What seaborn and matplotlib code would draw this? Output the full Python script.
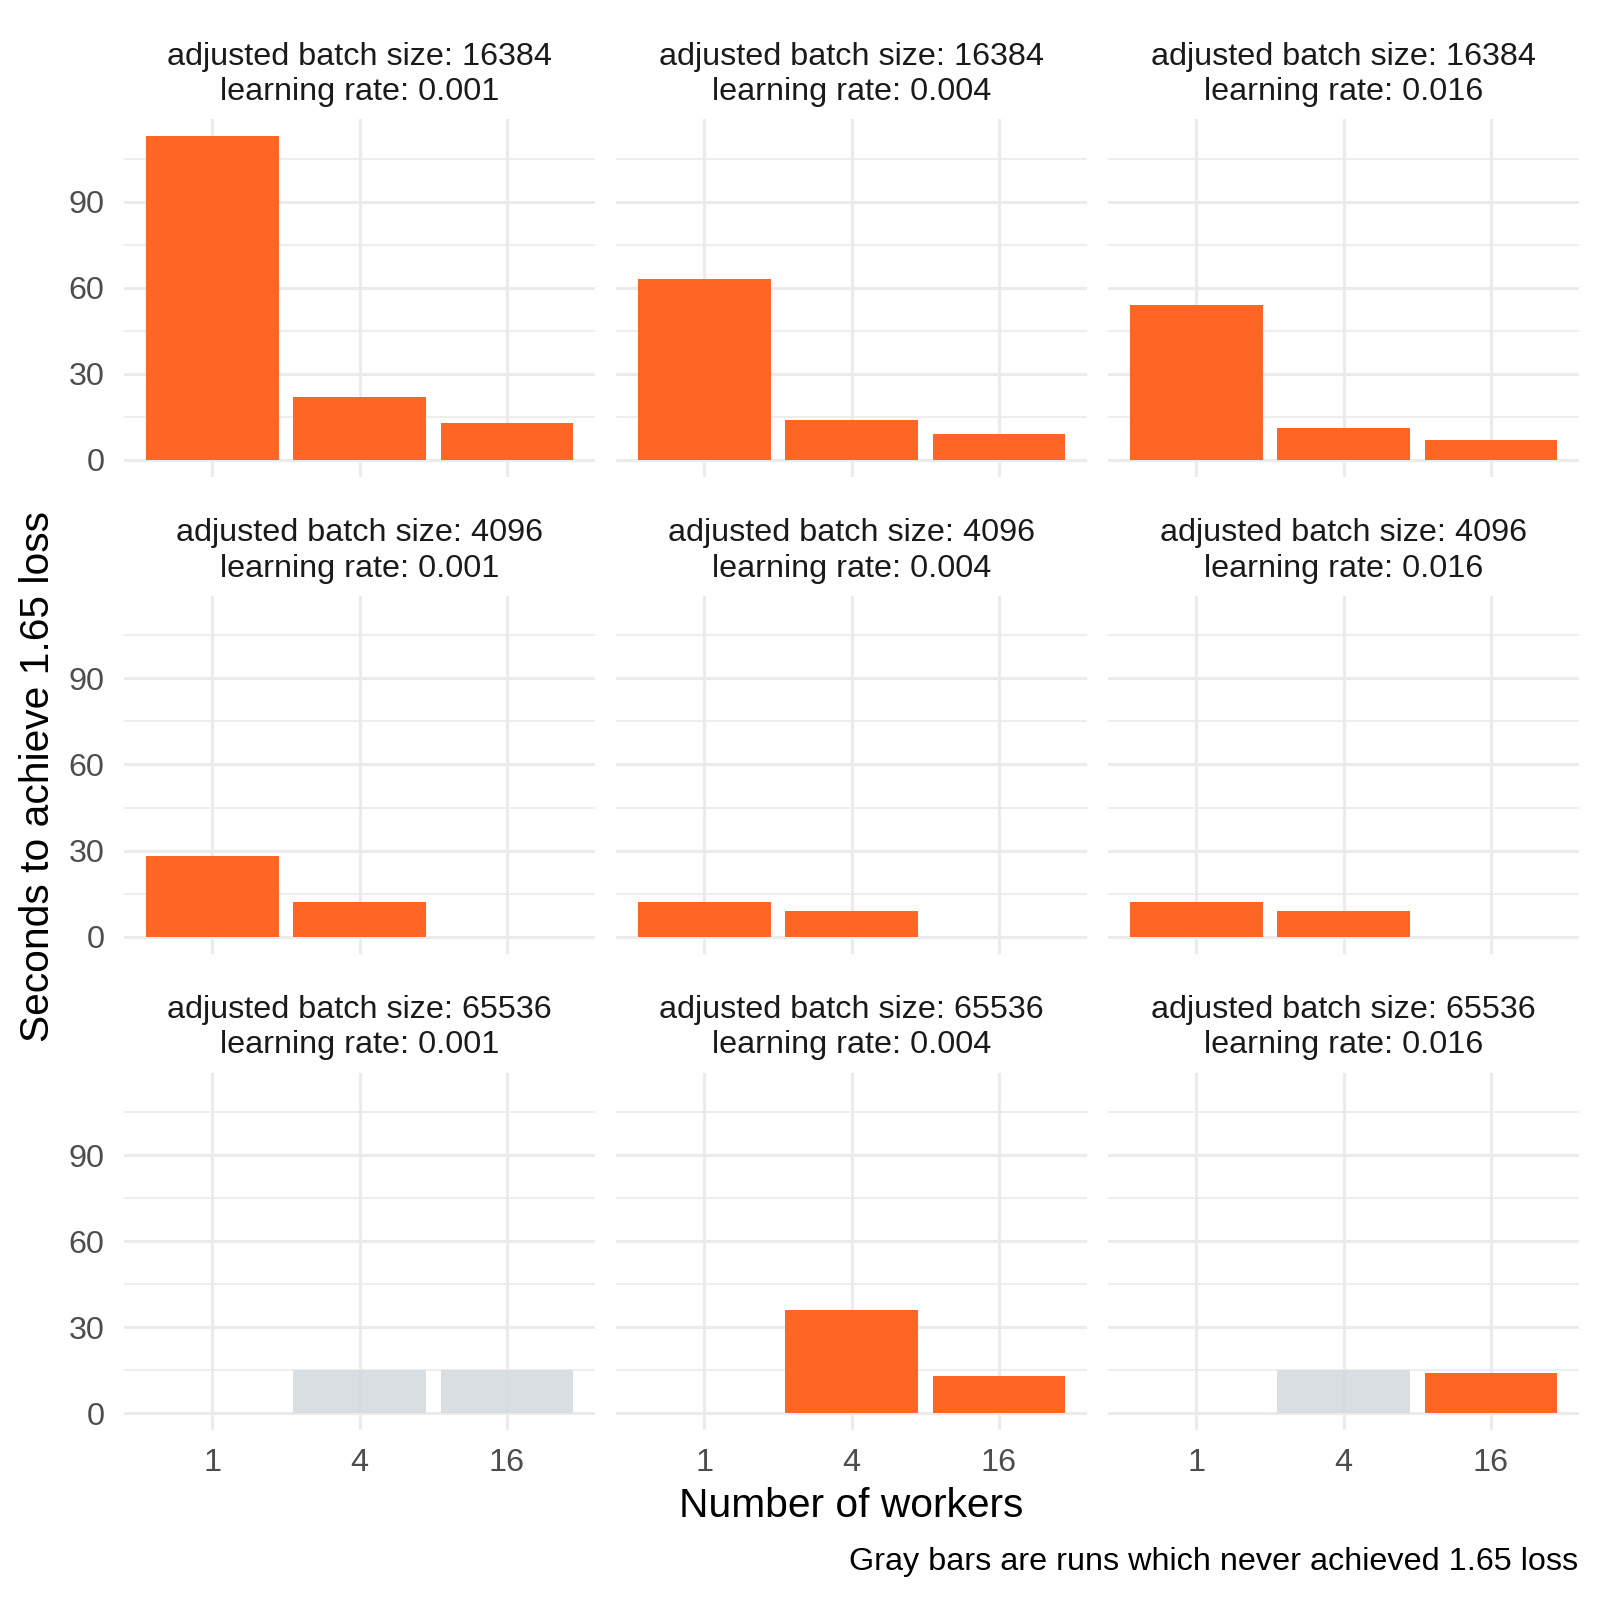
import matplotlib
matplotlib.use("Agg")
import matplotlib.pyplot as plt
import seaborn as sns
import pandas as pd

sns.set_theme(style="white")
plt.rcParams['font.family'] = ['Liberation Sans', 'DejaVu Sans']

batch_sizes = ["16384", "4096", "65536"]
learning_rates = ["0.001", "0.004", "0.016"]
workers = ["1", "4", "16"]

# seconds per (batch size, learning rate) -> values for workers 1, 4, 16 (None = no bar)
secs_16384_0001 = [113, 22, 13]
secs_16384_0004 = [63, 14, 9]
secs_16384_0016 = [54, 11, 7]
secs_4096_0001 = [28, 12, None]
secs_4096_0004 = [12, 9, None]
secs_4096_0016 = [12, 9, None]
secs_65536_0001 = [None, 15, 15]
secs_65536_0004 = [None, 36, 13]
secs_65536_0016 = [None, 15, 14]

# achieved flag: True = reached 1.65 loss, False = gray bar
ok_16384_0001 = [True, True, True]
ok_16384_0004 = [True, True, True]
ok_16384_0016 = [True, True, True]
ok_4096_0001 = [True, True, True]
ok_4096_0004 = [True, True, True]
ok_4096_0016 = [True, True, True]
ok_65536_0001 = [True, False, False]
ok_65536_0004 = [True, True, True]
ok_65536_0016 = [True, False, True]

series = {
    ("16384", "0.001"): (secs_16384_0001, ok_16384_0001),
    ("16384", "0.004"): (secs_16384_0004, ok_16384_0004),
    ("16384", "0.016"): (secs_16384_0016, ok_16384_0016),
    ("4096", "0.001"): (secs_4096_0001, ok_4096_0001),
    ("4096", "0.004"): (secs_4096_0004, ok_4096_0004),
    ("4096", "0.016"): (secs_4096_0016, ok_4096_0016),
    ("65536", "0.001"): (secs_65536_0001, ok_65536_0001),
    ("65536", "0.004"): (secs_65536_0004, ok_65536_0004),
    ("65536", "0.016"): (secs_65536_0016, ok_65536_0016),
}

rows = []
for (bs, lr), (vals, oks) in series.items():
    for w, v, ok in zip(workers, vals, oks):
        if v is not None:
            rows.append({"batch": bs, "lr": lr, "workers": w, "seconds": v,
                         "status": "achieved" if ok else "never"})
df = pd.DataFrame(rows)

ORANGE = "#FF6624"
GRAY = "#D3DADE"
GRID = "#EBEBEB"

fig = plt.figure(figsize=(16, 16), dpi=100)
lefts = [0.0775, 0.385, 0.6925]
width = 0.2945
bottoms = [0.702, 0.404, 0.106]
height = 0.2235

ymin, ymax = -5.9, 118.7
for r, bs in enumerate(batch_sizes):
    for c, lr in enumerate(learning_rates):
        ax = fig.add_axes([lefts[c], bottoms[r], width, height])
        sub = df[(df.batch == bs) & (df.lr == lr)]
        for yv in [15, 45, 75, 105]:
            ax.axhline(yv, color=GRID, lw=1.2, zorder=0)
        for yv in [0, 30, 60, 90]:
            ax.axhline(yv, color=GRID, lw=2.2, zorder=0)
        for xv in range(3):
            ax.axvline(xv, color=GRID, lw=2.2, zorder=0)
        sns.barplot(data=sub, x="workers", y="seconds", hue="status",
                    order=workers, hue_order=["achieved", "never"],
                    palette={"achieved": ORANGE, "never": GRAY},
                    dodge=False, width=0.9, errorbar=None, legend=False,
                    saturation=1, ax=ax, zorder=1, linewidth=0)
        for p in ax.patches:
            if p.get_facecolor()[:3] == matplotlib.colors.to_rgb(GRAY):
                p.set_alpha(0.88)
        ax.set_xlim(-0.6, 2.6)
        ax.set_ylim(ymin, ymax)
        ax.set_yticks([0, 30, 60, 90])
        ax.set_xticks(range(3))
        for s in ax.spines.values():
            s.set_visible(False)
        ax.tick_params(length=0, labelsize=23.3, labelcolor="#4D4D4D")
        ax.tick_params(axis="y", pad=14)
        if c == 0:
            ax.set_yticklabels(["0", "30", "60", "90"])
        else:
            ax.set_yticklabels([])
        if r == 2:
            ax.set_xticklabels(workers)
            ax.tick_params(axis="x", pad=13)
        else:
            ax.set_xticklabels([])
        ax.set_xlabel("")
        ax.set_ylabel("")
        ax.set_title(f"adjusted batch size: {bs}\nlearning rate: {lr}",
                     fontsize=23.3, color="#1A1A1A", pad=14, linespacing=1.22)

fig.text(0.0235, 0.515, "Seconds to achieve 1.65 loss", rotation=90,
         ha="center", va="center", fontsize=29.3, color="black")
fig.text(0.532, 0.0585, "Number of workers", ha="center", va="center",
         fontsize=29.3, color="black")
fig.text(0.9865, 0.0235, "Gray bars are runs which never achieved 1.65 loss",
         ha="right", va="center", fontsize=23.3, color="black")

fig.savefig("out.png", dpi=100, facecolor="white")
